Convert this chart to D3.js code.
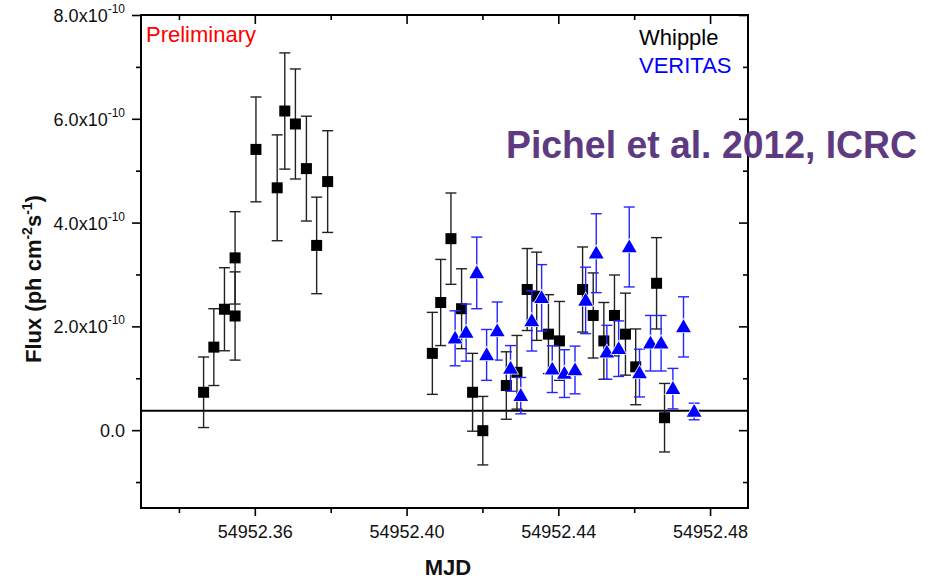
<!DOCTYPE html>
<html>
<head>
<meta charset="utf-8">
<script src="https://cdn.jsdelivr.net/npm/d3@7"></script>
<style>
  html, body { margin: 0; padding: 0; background: #fff; }
  svg { display: block; font-family: "Liberation Sans", Arial, sans-serif; }
</style>
</head>
<body>
<svg id="chart" width="941" height="579"></svg>
<script>
// ---------------- data (flux in units of 1e-10 ph cm^-2 s^-1) ----------------
const whippleMJD = [54952.3465, 54952.3492, 54952.3520, 54952.3548, 54952.3548, 54952.3603,
  54952.3659, 54952.3679, 54952.3707, 54952.3736, 54952.3763, 54952.3792,
  54952.4068, 54952.4090, 54952.4117, 54952.4145, 54952.4174, 54952.4201,
  54952.4263, 54952.4291, 54952.4318, 54952.4343, 54952.4374, 54952.4403,
  54952.4464, 54952.4492, 54952.4520, 54952.4548, 54952.4577, 54952.4604,
  54952.4659, 54952.4680];
const whippleFlux = [0.73, 1.60, 2.33, 3.32, 2.20, 5.41,
  4.67, 6.15, 5.90, 5.04, 3.56, 4.79,
  1.48, 2.46, 3.69, 2.34, 0.73, -0.01,
  0.86, 1.115, 2.71, 2.58, 1.85, 1.72,
  2.71, 2.21, 1.72, 2.21, 1.85, 1.22,
  2.83, 0.24];
const whippleErr = [0.68, 0.74, 0.80, 0.89, 0.85, 1.01,
  1.02, 1.12, 1.06, 1.01, 0.93, 0.98,
  0.79, 0.83, 0.88, 0.77, 0.75, 0.66,
  0.65, 0.71, 0.79, 0.85, 0.76, 0.76,
  0.82, 0.82, 0.74, 0.78, 0.79, 0.73,
  0.88, 0.66];

const veritasMJD = [54952.4128, 54952.4157, 54952.4185, 54952.4211, 54952.4239, 54952.4274,
  54952.4301, 54952.4330, 54952.4356, 54952.4384, 54952.4416, 54952.4444,
  54952.4472, 54952.4500, 54952.4528, 54952.4559, 54952.4587, 54952.4614,
  54952.4643, 54952.4671, 54952.4702, 54952.4730, 54952.4758];
const veritasFlux = [1.77, 1.88, 3.03, 1.45, 1.91, 1.19,
  0.665, 2.105, 2.55, 1.175, 1.09, 1.16,
  2.50, 3.41, 1.50, 1.57, 3.53, 1.10,
  1.675, 1.675, 0.80, 1.99, 0.36];
const veritasErr = [0.53, 0.55, 0.69, 0.49, 0.56, 0.44,
  0.35, 0.58, 0.64, 0.45, 0.46, 0.46,
  0.64, 0.76, 0.52, 0.535, 0.77, 0.46,
  0.535, 0.535, 0.39, 0.58, 0.16];

const baselineFlux = [0.375];

const xMajorTicks = [54952.36, 54952.40, 54952.44, 54952.48];
const xMinorTicks = [54952.34, 54952.38, 54952.42, 54952.46];
const yMajorTicks = [0, 2, 4, 6, 8];
const yMinorTicks = [-1, 1, 3, 5, 7];
const yTickLabels = ["0.0", "2.0", "4.0", "6.0", "8.0"];

// ---------------- chart ----------------
const svg = d3.select("#chart");
const FONT = '"Liberation Sans", Arial, sans-serif';

const x = d3.scaleLinear().domain([54952.33, 54952.49]).range([141, 748]);
const y = d3.scaleLinear().domain([-1.5, 8]).range([508, 15]);
const [x0, x1] = x.range();
const [yb, yt] = y.range();

svg.append("rect").attr("width", 941).attr("height", 579).attr("fill", "#fff");

function styleAxis(g) {
  g.select(".domain").remove();
  g.selectAll(".tick line").attr("stroke", "#000").attr("stroke-width", 1.6);
  g.selectAll("text").attr("font-family", FONT).attr("font-size", 18).attr("fill", "#111");
}

// bottom axis (outward ticks, labels)
svg.append("g").attr("transform", `translate(0,${yb})`)
  .call(d3.axisBottom(x).tickValues(xMajorTicks).tickSize(8).tickPadding(9).tickFormat(d3.format(".2f")))
  .call(styleAxis);
svg.append("g").attr("transform", `translate(0,${yb})`)
  .call(d3.axisBottom(x).tickValues(xMinorTicks).tickSize(5).tickFormat(""))
  .call(styleAxis);
// top axis (inward ticks)
svg.append("g").attr("transform", `translate(0,${yt})`)
  .call(d3.axisBottom(x).tickValues(xMajorTicks).tickSize(9).tickFormat(""))
  .call(styleAxis);
svg.append("g").attr("transform", `translate(0,${yt})`)
  .call(d3.axisBottom(x).tickValues(xMinorTicks).tickSize(5).tickFormat(""))
  .call(styleAxis);
// left axis (outward ticks)
svg.append("g").attr("transform", `translate(${x0},0)`)
  .call(d3.axisLeft(y).tickValues(yMajorTicks).tickSize(9).tickFormat(""))
  .call(styleAxis);
svg.append("g").attr("transform", `translate(${x0},0)`)
  .call(d3.axisLeft(y).tickValues(yMinorTicks).tickSize(5).tickFormat(""))
  .call(styleAxis);
// right axis (inward ticks)
svg.append("g").attr("transform", `translate(${x1},0)`)
  .call(d3.axisLeft(y).tickValues(yMajorTicks).tickSize(9).tickFormat(""))
  .call(styleAxis);
svg.append("g").attr("transform", `translate(${x1},0)`)
  .call(d3.axisLeft(y).tickValues(yMinorTicks).tickSize(5).tickFormat(""))
  .call(styleAxis);

// y tick labels with superscript exponent
const yl = svg.append("g").attr("font-family", FONT).attr("fill", "#111");
yMajorTicks.forEach((v, i) => {
  const t = yl.append("text")
    .attr("x", 125).attr("y", y(v) + 7)
    .attr("text-anchor", "end").attr("font-size", 18);
  t.append("tspan").text(yTickLabels[i] + (v === 0 ? "" : "x10"));
  if (v !== 0) t.append("tspan").attr("font-size", 12).attr("dy", -9).text("-10");
});

// frame
svg.append("rect")
  .attr("x", x0).attr("y", yt).attr("width", x1 - x0).attr("height", yb - yt)
  .attr("fill", "none").attr("stroke", "#000").attr("stroke-width", 2);

// horizontal reference line
svg.selectAll("line.base").data(baselineFlux).enter().append("line")
  .attr("class", "base")
  .attr("x1", x0).attr("x2", x1)
  .attr("y1", d => y(d)).attr("y2", d => y(d))
  .attr("stroke", "#000").attr("stroke-width", 2);

// error bars helper
function errorBars(mjd, flux, err, color) {
  const g = svg.append("g").attr("stroke", color).attr("stroke-width", 1.4).attr("fill", "none");
  mjd.forEach((m, i) => {
    const cx = x(m), ylo = y(flux[i] - err[i]), yhi = y(flux[i] + err[i]);
    g.append("line").attr("x1", cx).attr("x2", cx).attr("y1", ylo).attr("y2", yhi);
    g.append("line").attr("x1", cx - 5.5).attr("x2", cx + 5.5).attr("y1", ylo).attr("y2", ylo);
    g.append("line").attr("x1", cx - 5.5).attr("x2", cx + 5.5).attr("y1", yhi).attr("y2", yhi);
  });
}

// Whipple
errorBars(whippleMJD, whippleFlux, whippleErr, "#222");
svg.append("g").selectAll("rect").data(whippleMJD).enter().append("rect")
  .attr("x", d => x(d) - 5.5)
  .attr("y", (d, i) => y(whippleFlux[i]) - 5.5)
  .attr("width", 11).attr("height", 11)
  .attr("fill", "#000");

// VERITAS
errorBars(veritasMJD, veritasFlux, veritasErr, "#2525ff");
const tri = d3.symbol().type(d3.symbolTriangle).size(95);
svg.append("g").selectAll("path").data(veritasMJD).enter().append("path")
  .attr("d", tri)
  .attr("transform", (d, i) => `translate(${x(d)},${y(veritasFlux[i]) + 1})`)
  .attr("fill", "#0000ff").attr("stroke", "#fff").attr("stroke-width", 1.5)
  .attr("paint-order", "stroke");

// texts
svg.append("text").attr("x", 146).attr("y", 42).attr("font-size", 22)
  .attr("font-family", FONT).attr("fill", "#ff0000").text("Preliminary");
svg.append("text").attr("x", 639).attr("y", 45).attr("font-size", 22)
  .attr("font-family", FONT).attr("fill", "#000").text("Whipple");
svg.append("text").attr("x", 639).attr("y", 72.5).attr("font-size", 22)
  .attr("font-family", FONT).attr("fill", "#0000ff").text("VERITAS");
svg.append("text").attr("x", 506).attr("y", 158).attr("font-size", 38)
  .attr("font-weight", "bold").attr("font-family", FONT).attr("fill", "#5e3a80")
  .attr("textLength", 411).attr("lengthAdjust", "spacingAndGlyphs")
  .text("Pichel et al. 2012, ICRC");

// axis titles
svg.append("text").attr("x", 448).attr("y", 575).attr("text-anchor", "middle")
  .attr("font-size", 22).attr("font-weight", "bold").attr("font-family", FONT)
  .attr("fill", "#111").text("MJD");

const yt2 = svg.append("text").attr("transform", "translate(41,363) rotate(-90)")
  .attr("font-size", 22).attr("font-weight", "bold").attr("font-family", FONT)
  .attr("fill", "#111");
yt2.append("tspan").text("Flux (ph cm");
yt2.append("tspan").attr("font-size", 14).attr("dy", -9).text("-2");
yt2.append("tspan").attr("dy", 9).text("s");
yt2.append("tspan").attr("font-size", 14).attr("dy", -9).text("-1");
yt2.append("tspan").attr("dy", 9).text(")");
</script>
</body>
</html>
